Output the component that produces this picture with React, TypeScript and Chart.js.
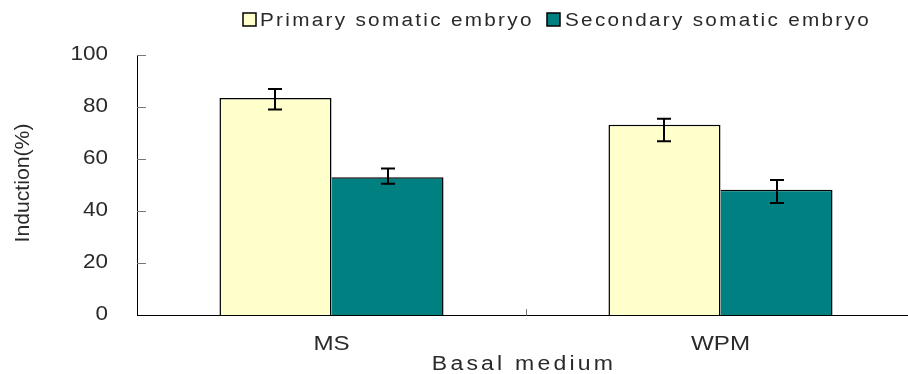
import React, { useEffect, useRef } from "react";
import { Chart, registerables } from "chart.js";
Chart.register(...registerables);

const categories = ["MS", "WPM"];
const seriesNames = ["Primary somatic embryo", "Secondary somatic embryo"];
const primaryValues = [83.5, 73.2];
const secondaryValues = [53.0, 48.2];
const primaryErrHigh = [86.9, 75.5];
const primaryErrLow = [79.0, 66.8];
const secondaryErrHigh = [56.3, 51.9];
const secondaryErrLow = [50.5, 43.1];
const yTickValues = [0, 20, 40, 60, 80, 100];
const yTitle = "Induction(%)";
const xTitle = "Basal medium";
const colors = ["#FFFFCC", "#008080"];

const W = 916;
const H = 374;
const FONT = "'Liberation Sans', Arial, sans-serif";
const SX = 1.15;
const TEXT = "#2a2a2a";

function drawText(
  ctx: CanvasRenderingContext2D,
  text: string,
  x: number,
  y: number,
  size: number,
  align: CanvasTextAlign,
  ls: number,
  baseline: CanvasTextBaseline = "middle"
) {
  ctx.save();
  ctx.font = `${size}px ${FONT}`;
  (ctx as any).letterSpacing = ls + "px";
  ctx.textAlign = align;
  ctx.textBaseline = baseline;
  ctx.fillStyle = TEXT;
  ctx.translate(x, y);
  ctx.scale(SX, 1);
  ctx.fillText(text, 0, 0);
  ctx.restore();
}

export default function App() {
  const ref = useRef<HTMLCanvasElement | null>(null);
  useEffect(() => {
    if (!ref.current) return;
    const errs = [
      { hi: primaryErrHigh, lo: primaryErrLow },
      { hi: secondaryErrHigh, lo: secondaryErrLow },
    ];
    const overlay = {
      id: "overlay",
      afterDatasetsDraw(chart: any) {
        const ctx = chart.ctx;
        const ys = chart.scales.y;
        ctx.save();
        ctx.strokeStyle = "#000";
        ctx.lineWidth = 2;
        errs.forEach((e, di) => {
          const meta = chart.getDatasetMeta(di);
          meta.data.forEach((bar: any, j: number) => {
            const x = Math.round(bar.x);
            const yh = ys.getPixelForValue(e.hi[j]);
            const yl = ys.getPixelForValue(e.lo[j]);
            ctx.beginPath();
            ctx.moveTo(x, yh);
            ctx.lineTo(x, yl);
            ctx.moveTo(x - 7, yh);
            ctx.lineTo(x + 7, yh);
            ctx.moveTo(x - 7, yl);
            ctx.lineTo(x + 7, yl);
            ctx.stroke();
          });
        });
        ctx.restore();
      },
      afterDraw(chart: any) {
        const ctx = chart.ctx;
        const ys = chart.scales.y;
        const xs = chart.scales.x;
        const area = chart.chartArea;
        ctx.save();
        ctx.strokeStyle = "#777";
        ctx.lineWidth = 1;
        yTickValues.forEach((v) => {
          if (v === 0) return;
          const y = Math.round(ys.getPixelForValue(v)) + 0.5;
          ctx.beginPath();
          ctx.moveTo(area.left, y);
          ctx.lineTo(area.left + 9, y);
          ctx.stroke();
        });
        for (let i = 1; i < categories.length; i++) {
          const x = Math.round((xs.getPixelForValue(i - 1) + xs.getPixelForValue(i)) / 2) + 0.5;
          ctx.beginPath();
          ctx.moveTo(x, area.bottom);
          ctx.lineTo(x, area.bottom - 6);
          ctx.stroke();
        }
        ctx.restore();
        yTickValues.forEach((v) => {
          drawText(ctx, String(v), area.left - 29, ys.getPixelForValue(v), 19.5, "right", 0);
        });
        categories.forEach((c, i) => {
          drawText(ctx, c, xs.getPixelForValue(i), area.bottom + 29, 21, "center", 0);
        });
        // y title
        ctx.save();
        ctx.fillStyle = TEXT;
        ctx.font = `20px ${FONT}`;
        ctx.textAlign = "center";
        ctx.textBaseline = "middle";
        const tw = ctx.measureText(yTitle).width;
        ctx.translate(23, 183);
        ctx.rotate(-Math.PI / 2);
        ctx.scale(119 / tw, 1);
        ctx.fillText(yTitle, 0, 0);
        ctx.restore();
        drawText(ctx, xTitle, (area.left + area.right) / 2 - 2, 364, 20, "center", 2.8);
        const legendItems = [
          { box: 243, textX: 260 },
          { box: 547, textX: 565 },
        ];
        legendItems.forEach((it, i) => {
          ctx.save();
          ctx.fillStyle = colors[i];
          ctx.fillRect(it.box, 13, 13, 13);
          ctx.strokeStyle = "#000";
          ctx.lineWidth = 1.5;
          ctx.strokeRect(it.box, 13, 13, 13);
          ctx.restore();
          drawText(ctx, seriesNames[i], it.textX, 26, 18, "left", 2.0, "alphabetic");
        });
      },
    };
    const chart = new Chart(ref.current, {
      type: "bar",
      data: {
        labels: categories,
        datasets: [
          {
            label: seriesNames[0],
            data: primaryValues,
            backgroundColor: colors[0],
            borderColor: "#000",
            borderWidth: { top: 1.5, left: 1.5, right: 1.5, bottom: 0 },
            categoryPercentage: 0.576,
            barPercentage: 1,
          },
          {
            label: seriesNames[1],
            data: secondaryValues,
            backgroundColor: colors[1],
            borderColor: "#000",
            borderWidth: { top: 1.5, left: 0, right: 1.5, bottom: 0 },
            categoryPercentage: 0.576,
            barPercentage: 1,
          },
        ],
      },
      options: {
        responsive: false,
        animation: false,
        devicePixelRatio: 1,
        layout: { padding: { top: 55, right: 1, left: 0, bottom: 0 } },
        plugins: { legend: { display: false }, tooltip: { enabled: false } },
        scales: {
          x: {
            grid: { display: false },
            border: { display: true, color: "#000", width: 1 },
            ticks: { display: false },
            afterFit: (s: any) => {
              s.height = 59;
            },
          },
          y: {
            min: 0,
            max: 100,
            grid: { display: false },
            border: { display: true, color: "#000", width: 1 },
            afterBuildTicks: (s: any) => {
              s.ticks = yTickValues.map((v) => ({ value: v }));
            },
            ticks: { display: false },
            afterFit: (s: any) => {
              s.width = 137;
            },
          },
        },
      },
      plugins: [overlay],
    });
    return () => chart.destroy();
  }, []);
  return (
    <div style={{ position: "fixed", left: 0, top: 0, width: 908, height: H, overflow: "hidden", background: "#fff" }}>
      <canvas ref={ref} width={W} height={H} style={{ width: W, height: H, display: "block" }} />
    </div>
  );
}
